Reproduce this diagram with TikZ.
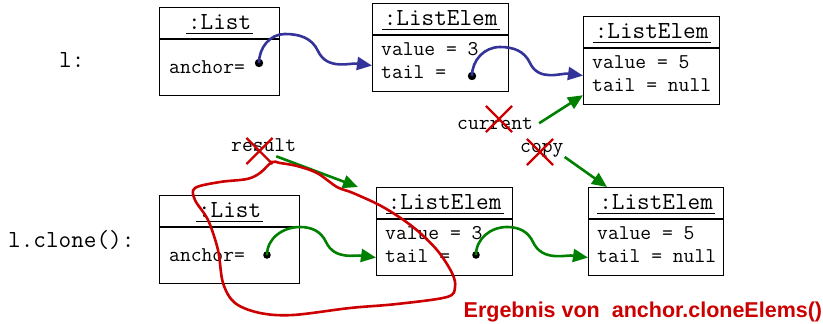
\documentclass[tikz,border=0pt]{standalone}
\usepackage{fontspec}
\setmainfont{Liberation Sans}
\usetikzlibrary{arrows.meta,shapes.misc}
\definecolor{ptrblue}{RGB}{51,51,153}
\definecolor{ptrgreen}{RGB}{0,128,0}
\definecolor{markred}{RGB}{204,0,0}
\tikzset{
  objbox/.style={draw,line width=1.2pt,minimum height=88pt,inner sep=0pt,anchor=north west},
  objline/.style={line width=1.2pt},
  objtitle/.style={font=\ttfamily\fontsize{24.5}{26}\selectfont,inner sep=0pt,anchor=base},
  objfield/.style={font=\ttfamily\fontsize{21}{24}\selectfont,inner sep=0pt,anchor=base west},
  ptr/.style={line width=2.6pt,-{Triangle[length=15pt,width=13pt]}},
  struck/.style={cross out,draw=markred,line width=2.2pt,minimum size=24pt,inner sep=0pt},
}
\begin{document}
\begin{tikzpicture}[x=1pt,y=-1pt]
    \useasboundingbox (0,0) rectangle (823,324);
    % names on the left
    \node[objtitle,anchor=base west] (orig) at (59,67) {l:};
    \node[objtitle,anchor=base west] (cln) at (8,247) {l.clone():};
    % original list
    \node[objbox,minimum width=120pt] (lst) at (159,7) {};
    \draw[objline] ([yshift=-32pt]lst.north west) -- ([yshift=-32pt]lst.north east);
    \node[objtitle] (lst-t) at ([yshift=-22pt]lst.north) {:List};
    \draw[line width=1pt] ([shift={(-2pt,-4pt)}]lst-t.south west) -- ([shift={(2pt,-4pt)}]lst-t.south east);
    \node[objfield] (lst-f) at ([xshift=10pt,yshift=-66pt]lst.north west) {anchor=};
    \node[objbox,minimum width=136pt] (e1) at (372,3) {};
    \draw[objline] ([yshift=-32pt]e1.north west) -- ([yshift=-32pt]e1.north east);
    \node[objtitle] (e1-t) at ([yshift=-22pt]e1.north) {:ListElem};
    \draw[line width=1pt] ([shift={(-2pt,-4pt)}]e1-t.south west) -- ([shift={(2pt,-4pt)}]e1-t.south east);
    \node[objfield] (e1-v) at ([xshift=9pt,yshift=-52pt]e1.north west) {value = 3};
    \node[objfield] (e1-n) at ([xshift=9pt,yshift=-75pt]e1.north west) {tail =};
    \node[objbox,minimum width=136pt] (e2) at (583,16) {};
    \draw[objline] ([yshift=-32pt]e2.north west) -- ([yshift=-32pt]e2.north east);
    \node[objtitle] (e2-t) at ([yshift=-22pt]e2.north) {:ListElem};
    \draw[line width=1pt] ([shift={(-2pt,-4pt)}]e2-t.south west) -- ([shift={(2pt,-4pt)}]e2-t.south east);
    \node[objfield] (e2-v) at ([xshift=9pt,yshift=-52pt]e2.north west) {value = 5};
    \node[objfield] (e2-n) at ([xshift=9pt,yshift=-75pt]e2.north west) {tail = null};
    % clone
    \node[objbox,minimum width=140pt] (clst) at (159,195) {};
    \draw[objline] ([yshift=-32pt]clst.north west) -- ([yshift=-32pt]clst.north east);
    \node[objtitle] (clst-t) at ([yshift=-22pt]clst.north) {:List};
    \draw[line width=1pt] ([shift={(-2pt,-4pt)}]clst-t.south west) -- ([shift={(2pt,-4pt)}]clst-t.south east);
    \node[objfield] (clst-f) at ([xshift=10pt,yshift=-66pt]clst.north west) {anchor=};
    \node[objbox,minimum width=136pt] (c1) at (376,187) {};
    \draw[objline] ([yshift=-32pt]c1.north west) -- ([yshift=-32pt]c1.north east);
    \node[objtitle] (c1-t) at ([yshift=-22pt]c1.north) {:ListElem};
    \draw[line width=1pt] ([shift={(-2pt,-4pt)}]c1-t.south west) -- ([shift={(2pt,-4pt)}]c1-t.south east);
    \node[objfield] (c1-v) at ([xshift=9pt,yshift=-52pt]c1.north west) {value = 3};
    \node[objfield] (c1-n) at ([xshift=9pt,yshift=-75pt]c1.north west) {tail =};
    \node[objbox,minimum width=135pt] (c2) at (588,187) {};
    \draw[objline] ([yshift=-32pt]c2.north west) -- ([yshift=-32pt]c2.north east);
    \node[objtitle] (c2-t) at ([yshift=-22pt]c2.north) {:ListElem};
    \draw[line width=1pt] ([shift={(-2pt,-4pt)}]c2-t.south west) -- ([shift={(2pt,-4pt)}]c2-t.south east);
    \node[objfield] (c2-v) at ([xshift=9pt,yshift=-52pt]c2.north west) {value = 5};
    \node[objfield] (c2-n) at ([xshift=9pt,yshift=-75pt]c2.north west) {tail = null};
    % pointers
    \coordinate (lst-p) at (259,63);
    \coordinate (e1-p) at (472,76);
    \coordinate (clst-p) at (267,255);
    \coordinate (c1-p) at (476,255);
    \fill (lst-p) circle[radius=4.2pt] (e1-p) circle[radius=4.2pt];
    \fill (clst-p) circle[radius=3.8pt] (c1-p) circle[radius=3.8pt];
    \draw[ptr,ptrblue] (lst-p) to[out=90,in=180] (285,34) to[out=0,in=115] (318,51) to[out=-65,in=172] ([yshift=-18pt]e1.west);
    \draw[ptr,ptrblue] (e1-p) to[out=90,in=180] (500,47) to[out=0,in=115] (530,63) to[out=-65,in=172] ([yshift=-15pt]e2.west);
    \draw[ptr,ptrgreen] (clst-p) to[out=90,in=180] (300,227) to[out=0,in=115] (326,242) to[out=-65,in=172] ([yshift=-26pt]c1.west);
    \draw[ptr,ptrgreen] (c1-p) to[out=90,in=180] (507,227) to[out=0,in=115] (533,242) to[out=-65,in=172] ([yshift=-26pt]c2.west);
    % local variables
    \node[objfield] (cur) at (457,129) {current};
    \node[objfield] (cpy) at (520,152) {copy};
    \node[objfield] (res) at (231,151) {result};
    \draw[ptr,ptrgreen] ([xshift=6pt]cur.east) -- ([yshift=10pt]e2.south west);
    \draw[ptr,ptrgreen] ([xshift=1pt]cpy.south east) -- ([xshift=19pt]c2.north west);
    \draw[ptr,ptrgreen] ([shift={(-20pt,-5pt)}]res.south east) -- ([xshift=-18pt]c1.north west);
    \node[struck] (cur-x) at (499,119) {};
    \node[struck] (cpy-x) at (540,152) {};
    \node[struck] (res-x) at (259.5,151) {};
    % result of cloneElems
    \draw[markred,line width=2.6pt] plot[smooth cycle,tension=0.55] coordinates {
        (272,162) (260,173) (247,179) (220,182) (195,188) (195,200) (208,220)
        (218,250) (223,283) (235,303) (260,313) (293,315) (350,308) (397,304)
        (447,297) (455,287) (452,273) (437,250) (413,227) (383,207) (353,193)
        (337,187) (317,173) (297,166) (280,163)};
    \node[font=\bfseries\fontsize{21.5}{24}\selectfont,text=markred,inner sep=0pt,anchor=base west] (res-t) at (463.5,317) {Ergebnis von\ \ anchor.cloneElems()};
\end{tikzpicture}
\end{document}
